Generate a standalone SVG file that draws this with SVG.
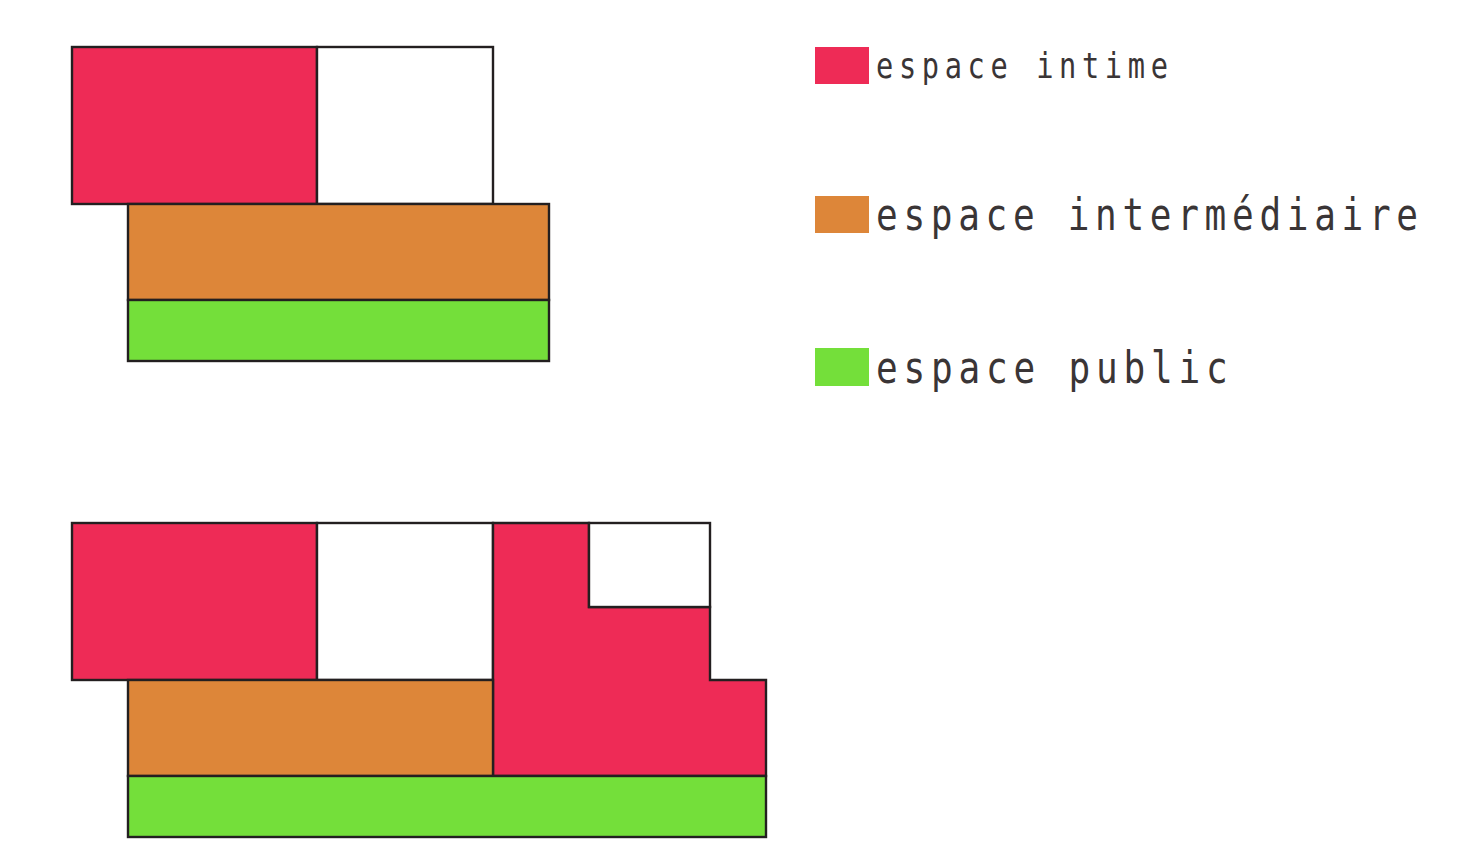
<svg xmlns="http://www.w3.org/2000/svg" width="1465" height="855" viewBox="0 0 1465 855">
<style>
.s{stroke:#231F20;stroke-width:2.4;stroke-linejoin:miter}
.r{fill:#EE2B56}.o{fill:#DD8639}.g{fill:#74DF3A}.w{fill:#FFFFFF}
.t{font-family:"DejaVu Sans Mono","Liberation Mono",monospace;fill:#3a3536}
</style>
<rect width="1465" height="855" fill="#FFFFFF"/>
<g id="plan-top">
<rect class="r s" x="72" y="47" width="245" height="157"/>
<rect class="w s" x="317" y="47" width="176" height="157"/>
<rect class="o s" x="128" y="204" width="421" height="96"/>
<rect class="g s" x="128" y="300" width="421" height="61"/>
</g>
<g id="plan-bottom">
<rect class="r s" x="72" y="523" width="245" height="157"/>
<rect class="w s" x="317" y="523" width="176" height="157"/>
<path class="r s" d="M493,523 H589 V607 H710 V680 H766 V776 H493 Z"/>
<rect class="w s" x="589" y="523" width="121" height="84"/>
<rect class="o s" x="128" y="680" width="365" height="96"/>
<rect class="g s" x="128" y="776" width="638" height="61"/>
</g>
<g id="legend-intime">
<rect class="r" x="815" y="47" width="54" height="37"/>
<text class="t" transform="translate(876,78) scale(0.82,1)" x="0" y="0" font-size="35" textLength="356" lengthAdjust="spacing">espace intime</text>
</g>
<g id="legend-intermediaire">
<rect class="o" x="815" y="196" width="54" height="37"/>
<text class="t" transform="translate(876,230) scale(0.82,1)" x="0" y="0" font-size="44" textLength="661" lengthAdjust="spacing">espace intermédiaire</text>
</g>
<g id="legend-public">
<rect class="g" x="815" y="348" width="54" height="38"/>
<text class="t" transform="translate(876,383) scale(0.82,1)" x="0" y="0" font-size="44" textLength="429" lengthAdjust="spacing">espace public</text>
</g>
<g id="connectors"/>
</svg>
